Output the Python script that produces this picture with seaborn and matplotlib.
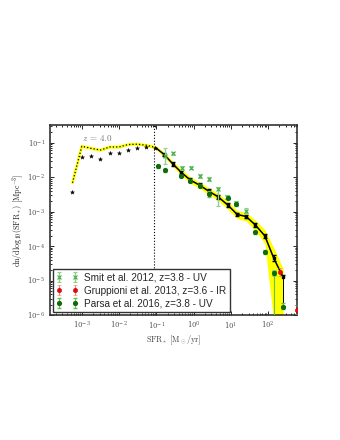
import seaborn as sns
import matplotlib
matplotlib.use('Agg')
import matplotlib.pyplot as plt
import numpy as np
import pandas as pd

# model (log10 SFR, log10 phi)
model_logsfr = [-3.25, -3.0, -2.75, -2.5, -2.25, -2.0, -1.76, -1.51, -1.27, -1.03,
                -0.79, -0.56, -0.33, -0.09, 0.16, 0.40, 0.66, 0.92, 1.17, 1.41,
                1.66, 1.91, 2.15, 2.40]
model_logphi = [-2.16, -1.10, -1.16, -1.21, -1.12, -1.12, -1.05, -1.04, -1.07, -1.13,
                -1.34, -1.61, -1.86, -2.08, -2.23, -2.40, -2.57, -2.81, -3.08, -3.14,
                -3.39, -3.70, -4.35, -4.90]
band_hi = [-2.12, -1.07, -1.13, -1.18, -1.09, -1.09, -1.02, -1.01, -1.04, -1.08,
           -1.27, -1.53, -1.77, -1.99, -2.14, -2.30, -2.47, -2.70, -2.97, -3.02,
           -3.25, -3.52, -4.05, -4.65]
band_lo = [-2.20, -1.13, -1.19, -1.24, -1.15, -1.15, -1.08, -1.07, -1.10, -1.18,
           -1.41, -1.69, -1.95, -2.17, -2.32, -2.50, -2.67, -2.93, -3.20, -3.27,
           -3.55, -3.92, -6.2, -6.2]
model_err_lo = [0.03] * 10 + [0.05] * 12 + [0.08, 0.85]
model_err_hi = [0.03] * 10 + [0.05] * 12 + [0.08, 0.05]

# second z=4 model (stars)
star_logsfr = [-3.25, -2.99, -2.74, -2.50, -2.25, -2.01, -1.77, -1.51, -1.27, -1.03]
star_logphi = [-2.42, -1.40, -1.38, -1.46, -1.31, -1.31, -1.21, -1.14, -1.11, -1.14]

# Smit et al. 2012
smit_logsfr = [-0.76, -0.54, -0.30, -0.06, 0.18, 0.41, 0.66, 0.90, 1.15, 1.41, 2.15]
smit_logphi = [-1.37, -1.31, -1.72, -1.72, -1.96, -2.06, -2.34, -2.57, -2.76, -2.97, -4.78]
smit_err_lo = [0.25, 0.05, 0.06, 0.05, 0.06, 0.06, 0.50, 0.06, 0.06, 0.07, 0.10]
smit_err_hi = [0.23, 0.05, 0.06, 0.05, 0.06, 0.06, 0.07, 0.06, 0.06, 0.07, 0.10]

# Gruppioni et al. 2013
grup_logsfr = [2.33, 2.78]
grup_logphi = [-4.74, -5.84]
grup_err = [0.12, 0.12]

# Parsa et al. 2016
parsa_logsfr = [-0.96, -0.76, -0.34, -0.09, 0.17, 0.41, 0.92, 1.15, 1.65, 1.91, 2.15, 2.41]
parsa_logphi = [-1.68, -1.80, -1.96, -2.10, -2.25, -2.49, -2.59, -2.78, -3.60, -4.18, -4.79, -5.78]
parsa_err_lo = [0.04, 0.04, 0.04, 0.04, 0.04, 0.08, 0.04, 0.04, 0.05, 0.06, 1.4, 0.05]
parsa_err_hi = [0.04, 0.04, 0.04, 0.04, 0.04, 0.08, 0.04, 0.04, 0.05, 0.06, 0.08, 0.12]

res_limit = 0.089

sns.set_style('ticks')
plt.rcParams['font.family'] = ['DejaVu Serif']
plt.rcParams['mathtext.fontset'] = 'cm'

fig = plt.figure(figsize=(3.4, 4.4), dpi=100)
ax = fig.add_axes([0.147, 0.284, 0.727, 0.432])

p = lambda v: 10 ** np.asarray(v, dtype=float)

model = pd.DataFrame({'sfr': p(model_logsfr), 'phi': p(model_logphi)})
faint = model[model['sfr'] <= 0.1]
bright = model[model['sfr'] >= 0.09]

ax.fill_between(model['sfr'], p(band_lo), p(band_hi), color='yellow', lw=0, zorder=2)
sns.lineplot(data=faint, x='sfr', y='phi', ax=ax, color='yellow', lw=2.0, zorder=3)
sns.lineplot(data=faint, x='sfr', y='phi', ax=ax, color='black', lw=0.9, ls=':', zorder=4)
sns.lineplot(data=bright, x='sfr', y='phi', ax=ax, color='black', lw=1.1, zorder=4)
ax.errorbar(model['sfr'][10:], model['phi'][10:],
            yerr=[model['phi'][10:] * (1 - p(-np.array(model_err_lo[10:]))),
                  model['phi'][10:] * (p(model_err_hi[10:]) - 1)],
            fmt='s', ms=1.6, color='black', capsize=1.3, lw=0.7, zorder=5)

stars = pd.DataFrame({'sfr': p(star_logsfr), 'phi': p(star_logphi)})
sns.scatterplot(data=stars, x='sfr', y='phi', ax=ax, marker='*', s=9, color='black',
                edgecolor='black', linewidth=0.3, zorder=5)

def errs(logy, lo, hi):
    y = p(logy)
    return [y * (1 - p(-np.asarray(lo))), y * (p(hi) - 1)]

ax.errorbar(p(smit_logsfr), p(smit_logphi), yerr=errs(smit_logphi, smit_err_lo, smit_err_hi),
            fmt='x', ms=2.6, mew=0.8, color='#3fae3f', ecolor='#8fd08f', capsize=1.5, lw=1.0,
            ls='none', label='Smit et al. 2012, z=3.8 - UV', zorder=6)
ax.errorbar(p(grup_logsfr), p(grup_logphi), yerr=errs(grup_logphi, grup_err, grup_err),
            fmt='o', ms=3.0, color='red', ecolor='#f08080', mec='#aa0000', mew=0.4,
            capsize=1.5, lw=0.8, ls='none', label='Gruppioni et al. 2013, z=3.6 - IR', zorder=6)
ax.errorbar(p(parsa_logsfr), p(parsa_logphi), yerr=errs(parsa_logphi, parsa_err_lo, parsa_err_hi),
            fmt='o', ms=2.7, color='#0d6b0d', ecolor='#6abf4b', capsize=1.5, lw=0.8,
            ls='none', label='Parsa et al. 2016, z=3.8 - UV', zorder=6)

ax.axvline(res_limit, color='black', ls=':', lw=0.8, zorder=1)
ax.text(10 ** -2.6, 10 ** -0.86, r'$z\,=\,4.0$', color='#777777', fontsize=6.5,
        ha='center', va='center')

ax.set_xscale('log')
ax.set_yscale('log')
ax.set_xlim(1.4e-4, 6e2)
ax.set_ylim(1e-6, 0.33)
ax.set_xlabel(r'$\mathrm{SFR_*\ [M_\odot/yr]}$', fontsize=5.8, color='#444444', labelpad=2)
ax.set_ylabel(r'$\mathrm{dn/dlog_{10}(SFR_*)\ [Mpc^{-3}]}$', fontsize=5.8, color='#222222', labelpad=1)
ax.set_xticks(p([-3, -2, -1, 0, 1, 2]))
ax.set_yticks(p([-6, -5, -4, -3, -2, -1]))
ax.tick_params(which='both', direction='in', top=True, right=True, labelsize=5,
               labelcolor='#555555', width=0.7)
ax.tick_params(which='major', length=3)
ax.tick_params(which='minor', length=1.6)
ax.xaxis.set_minor_locator(matplotlib.ticker.LogLocator(base=10, subs=np.arange(2, 10), numticks=20))
ax.yaxis.set_minor_locator(matplotlib.ticker.LogLocator(base=10, subs=np.arange(2, 10), numticks=20))
ax.yaxis.set_minor_formatter(matplotlib.ticker.NullFormatter())
ax.xaxis.set_minor_formatter(matplotlib.ticker.NullFormatter())
for s in ax.spines.values():
    s.set_linewidth(1.2)
    s.set_color('#333333')

leg = ax.legend(loc='lower left', numpoints=2, fancybox=False, framealpha=1,
                edgecolor='#333333', prop={'family': 'Liberation Sans', 'size': 7.2},
                borderpad=0.35, labelspacing=0.3, handletextpad=0.6,
                borderaxespad=0.3, handlelength=2.2)
leg.get_frame().set_linewidth(1.0)

plt.savefig('out.png', dpi=100)
